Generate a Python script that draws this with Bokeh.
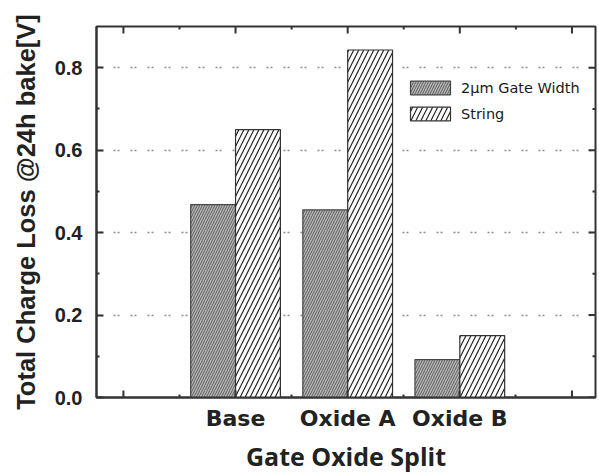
from bokeh.plotting import figure
from bokeh.models import (ColumnDataSource, LinearAxis, FixedTicker, Range1d, Legend, LegendItem)
from bokeh.embed import file_html
from bokeh.resources import INLINE

categories = ["Base", "Oxide A", "Oxide B"]
gate_width_2um = [0.468, 0.455, 0.092]
string_vals = [0.650, 0.843, 0.150]
series_names = ["2\u03bcm Gate Width", "String"]
y_ticks = [0.0, 0.2, 0.4, 0.6, 0.8]
y_minor = [0.1, 0.3, 0.5, 0.7]
x_ticks = [0, 1, 2, 3, 4]
x_minor = [0.5, 1.5, 2.5, 3.5]

X0, X1, Y0, Y1 = -0.24, 4.21, 0.0, 0.9

pos = [i + 1 for i in range(len(categories))]
bw = 0.4
src_a = ColumnDataSource(dict(x=[p_ - bw / 2 for p_ in pos], top=gate_width_2um))
src_b = ColumnDataSource(dict(x=[p_ + bw / 2 for p_ in pos], top=string_vals))

p = figure(width=599, height=475, output_backend="svg", toolbar_location=None,
           x_range=Range1d(X0, X1), y_range=Range1d(Y0, Y1),
           x_axis_location=None, y_axis_location=None,
           min_border_left=96, min_border_right=4, min_border_top=26, min_border_bottom=75)
p.background_fill_color = "white"
p.border_fill_color = "white"
p.outline_line_color = "#333333"
p.outline_line_width = 2

ra = p.vbar(x="x", top="top", width=bw, source=src_a, fill_color="#b4b4b4",
            line_color="#444444", line_width=1.2, hatch_pattern="/", hatch_color="#606060",
            hatch_scale=5, hatch_weight=1)
rb = p.vbar(x="x", top="top", width=bw, source=src_b, fill_color="white",
            line_color="#333333", line_width=1.2, hatch_pattern="/", hatch_color="#222222",
            hatch_scale=10, hatch_weight=1.2)

# tick lengths in data units (7px major, 3px minor)
xs_per_px = (X1 - X0) / 499.0
ys_per_px = (Y1 - Y0) / 374.0
tick_col = "#333333"

def ticks_h(xs, y_from, length):
    p.segment(x0=xs, x1=xs, y0=[y_from] * len(xs), y1=[y_from + length] * len(xs),
              line_color=tick_col, line_width=2)

def ticks_v(ys, x_from, length):
    p.segment(x0=[x_from] * len(ys), x1=[x_from + length] * len(ys), y0=ys, y1=ys,
              line_color=tick_col, line_width=2)

# top frame ticks
ticks_h(x_ticks, Y1, -7 * ys_per_px)
ticks_h(x_minor, Y1, -3 * ys_per_px)
# bottom frame outer major ticks without labels
ticks_h([x_ticks[0], x_ticks[-1]], Y0, 7 * ys_per_px)
# right frame ticks
ticks_v(y_ticks, X1, -7 * xs_per_px)
ticks_v(y_minor, X1, -3 * xs_per_px)

def style(ax):
    ax.major_tick_in = 7
    ax.major_tick_out = 0
    ax.minor_tick_in = 3
    ax.minor_tick_out = 0
    ax.axis_line_color = tick_col
    ax.axis_line_width = 2
    ax.major_tick_line_color = tick_col
    ax.major_tick_line_width = 2
    ax.minor_tick_line_color = tick_col
    ax.minor_tick_line_width = 2

xb = LinearAxis(ticker=FixedTicker(ticks=pos, minor_ticks=x_minor),
                major_label_overrides={pos[i]: categories[i] for i in range(len(categories))},
                axis_label="Gate Oxide Split")
style(xb)
xb.major_label_text_font = "DejaVu Sans"
xb.major_label_text_font_style = "bold"
xb.major_label_text_font_size = "22px"
xb.major_label_text_color = "#222222"
xb.major_label_standoff = 8
xb.axis_label_text_font = "Open Sans"
xb.axis_label_text_font_style = "bold"
xb.axis_label_text_font_size = "25px"
xb.axis_label_text_color = "#222222"
xb.axis_label_standoff = 5
p.add_layout(xb, "below")

yl = LinearAxis(ticker=FixedTicker(ticks=y_ticks, minor_ticks=y_minor),
                axis_label="Total Charge Loss @24h bake[V]")
style(yl)
yl.major_label_overrides = {v: f"{v:.1f}" for v in y_ticks}
yl.major_label_text_font = "Liberation Sans"
yl.major_label_text_font_style = "bold"
yl.major_label_text_font_size = "20px"
yl.major_label_text_color = "#222222"
yl.major_label_standoff = 14
yl.axis_label_text_font = "Liberation Sans"
yl.axis_label_text_font_style = "bold"
yl.axis_label_text_font_size = "25.5px"
yl.axis_label_text_color = "#222222"
yl.axis_label_standoff = 12
p.add_layout(yl, "left")

p.xgrid.visible = False
p.ygrid.ticker = FixedTicker(ticks=y_ticks[1:])
p.ygrid.grid_line_color = "#8c8c8c"
p.ygrid.grid_line_dash = "2 2 2 11"
p.ygrid.grid_line_width = 1.3

legend = Legend(items=[LegendItem(label=series_names[0], renderers=[ra]),
                       LegendItem(label=series_names[1], renderers=[rb])],
                location=(309, 275))
legend.border_line_color = None
legend.background_fill_alpha = 0
legend.label_text_font = "DejaVu Sans"
legend.label_text_font_size = "14.5px"
legend.label_text_color = "#1a1a1a"
legend.glyph_width = 50
legend.glyph_height = 17
legend.label_height = 17
legend.spacing = 9
legend.padding = 0
legend.margin = 0
legend.label_standoff = 6
p.add_layout(legend, "center")

open("out.html", "w").write(file_html(p, INLINE))
